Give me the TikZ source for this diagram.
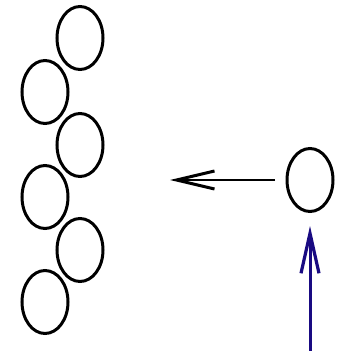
\documentclass[tikz,border=0pt]{standalone}
\usetikzlibrary{shapes.geometric,arrows.meta}
\begin{document}
\begin{tikzpicture}[x=1pt,y=-1pt,
  cell/.style={draw=black,ellipse,line width=3pt,minimum width=46pt,minimum height=63pt,inner sep=0pt},
  blackarrow/.style={draw=black,line width=2.3pt,-{Straight Barb[length=38pt,width=18pt,line width=3pt]}},
  bluearrow/.style={draw={rgb,255:red,25;green,10;blue,130},line width=3pt,-{Straight Barb[length=40pt,width=18pt,line width=3.2pt]}}]
\fill[white] (0,0) rectangle (347,351);
\useasboundingbox (0,0) rectangle (347,351);
\node[cell] (c1) at (80,38) {};
\node[cell] (c2) at (45,92) {};
\node[cell] (c3) at (80,145) {};
\node[cell] (c4) at (45,197) {};
\node[cell] (c5) at (80,250) {};
\node[cell] (c6) at (45,302) {};
\node[cell] (r) at (310,180) {};
\coordinate (bs) at (275,180);
\coordinate (be) at (170,180);
\coordinate (us) at (310,351);
\draw[blackarrow] (bs) -- (be);
\draw[bluearrow] (us) -- ([yshift=-13pt]r.south);
\end{tikzpicture}
\end{document}
